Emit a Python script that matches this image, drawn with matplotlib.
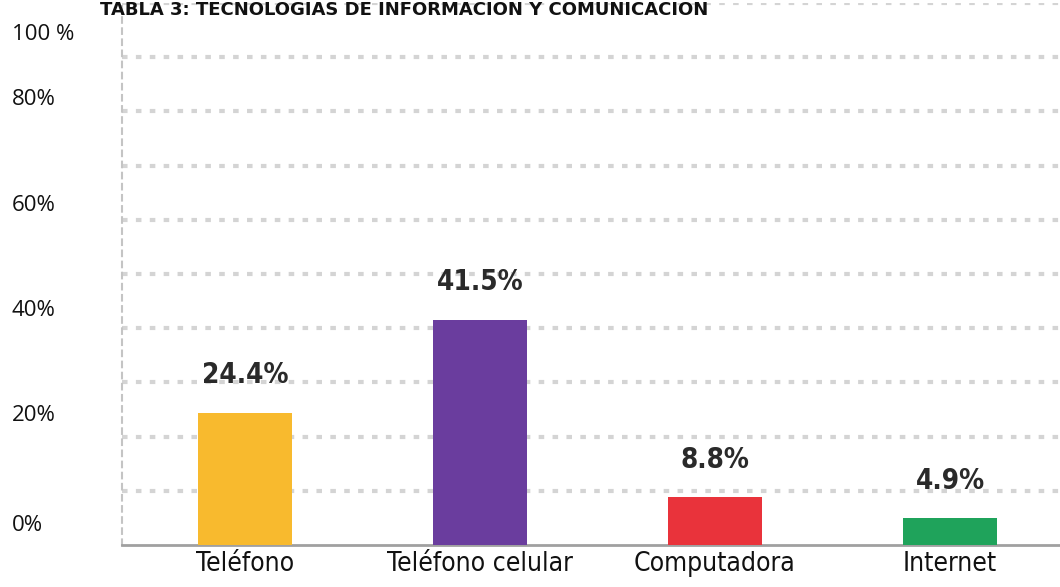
import matplotlib
matplotlib.use("Agg")
import matplotlib.pyplot as plt

# ---- data ----
categories = ["Teléfono", "Teléfono celular", "Computadora", "Internet"]
values = [24.4, 41.5, 8.8, 4.9]
value_labels = ["24.4%", "41.5%", "8.8%", "4.9%"]
bar_colors = ["#F8BA2E", "#6A3D9E", "#E9333B", "#1FA35B"]
ytick_labels = ["0%", "20%", "40%", "60%", "80%", "100 %"]
ytick_pos = [4.1, 24.4, 43.7, 63.1, 82.7, 94.6]
grid_levels = [10, 20, 30, 40, 50, 60, 70, 80, 90, 100]
title = "TABLA 3: TECNOLOGIAS DE INFORMACION Y COMUNICACION"

plt.rcParams["lines.scale_dashes"] = False

W, H = 1060, 587
fig = plt.figure(figsize=(W / 100, H / 100), dpi=100)
left, right, top, base = 122, 1060, 3, 545
ax = fig.add_axes([left / W, (H - base) / H, (right - left) / W, (base - top) / H])

x = list(range(len(categories)))
ax.set_xlim(-0.523, 3.468)
ax.set_ylim(0, 100)

for g in grid_levels:
    ax.axhline(g, color="#d4d4d4", lw=3.0, linestyle=(0, (4, 6)), zorder=1)

ax.bar(x, values, width=0.40, color=bar_colors, zorder=3)

for xi, v, lab in zip(x, values, value_labels):
    ax.annotate(lab, (xi, v), xytext=(0, 17), textcoords="offset points",
                ha="center", va="bottom", fontsize=20, fontweight="bold",
                fontstretch="condensed", family="DejaVu Sans",
                color="#2a2a2a", zorder=4)

ax.set_xticks(x, categories)
for t in ax.get_xticklabels():
    t.set_family("DejaVu Sans")
    t.set_fontstretch("condensed")
    t.set_fontsize(19)
    t.set_color("#111111")
ax.tick_params(axis="x", length=0, pad=4)

ax.set_yticks(ytick_pos, ytick_labels)
for t in ax.get_yticklabels():
    t.set_ha("left")
    t.set_family(["Open Sans", "DejaVu Sans"])
    t.set_fontsize(16)
    t.set_color("#111111")
ax.tick_params(axis="y", length=0, pad=110 * 0.72)

for s in ["top", "right"]:
    ax.spines[s].set_visible(False)
ax.spines["bottom"].set_color("#a0a0a0")
ax.spines["bottom"].set_linewidth(2)
ax.spines["left"].set_color("#c4c4c4")
ax.spines["left"].set_linewidth(1.5)
ax.spines["left"].set_linestyle((0, (4, 4)))

fig.text(100 / W, 1 - 1 / H, title, ha="left", va="top", fontsize=13,
         fontweight="bold", color="#111111", family="DejaVu Sans")

fig.savefig("out.png", dpi=100)
